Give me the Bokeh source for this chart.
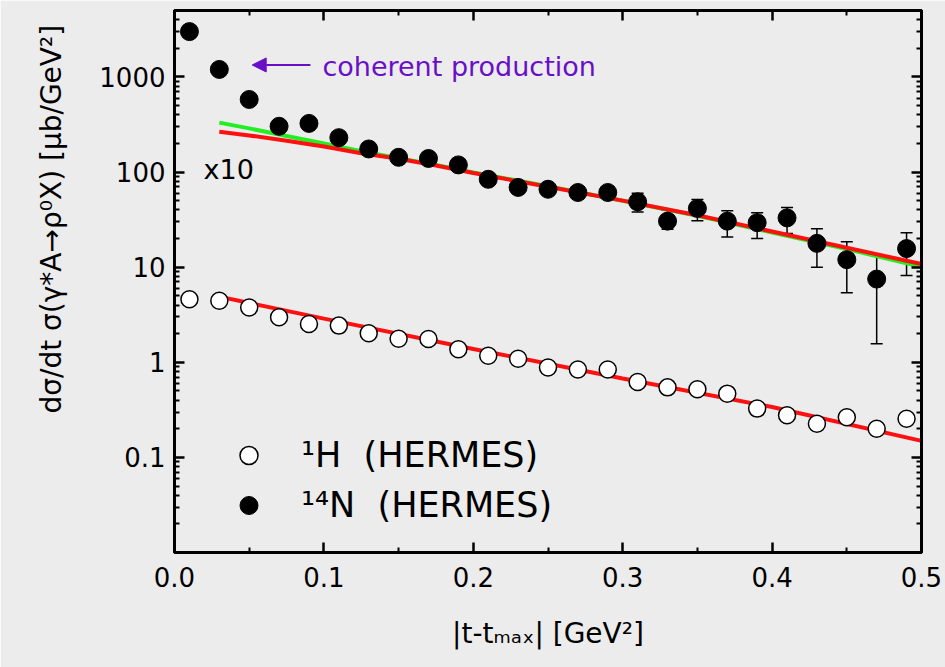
from bokeh.plotting import figure
from bokeh.models import (ColumnDataSource, Whisker, TeeHead, Label, Arrow, NormalHead,
                          FixedTicker, LinearAxis, LogAxis, CustomJSTickFormatter,
                          Legend, LegendItem, Range1d, PrintfTickFormatter, Title)
from bokeh.embed import file_html
from bokeh.resources import INLINE

# ---------------- data ----------------
t_values = [0.01, 0.03, 0.05, 0.07, 0.09, 0.11, 0.13, 0.15, 0.17, 0.19, 0.21, 0.23, 0.25,
            0.27, 0.29, 0.31, 0.33, 0.35, 0.37, 0.39, 0.41, 0.43, 0.45, 0.47, 0.49]
h_sigma = [4.6, 4.43, 3.77, 2.98, 2.53, 2.43, 2.02, 1.77, 1.76, 1.37, 1.17, 1.09, 0.88,
           0.84, 0.84, 0.62, 0.545, 0.52, 0.468, 0.326, 0.277, 0.226, 0.264, 0.20, 0.255]
n_sigma = [3000, 1200, 580, 303, 325, 230, 175, 143, 139, 119, 84, 69, 66,
           61, 61, 48.7, 30.5, 41.5, 30.5, 29.4, 33, 17.8, 12.0, 7.5, 15.7]

n_err_t = [0.31, 0.33, 0.35, 0.37, 0.39, 0.41, 0.43, 0.45, 0.47, 0.49]
n_err_low = [38, 25, 30.8, 20.8, 20.0, 22.6, 10.0, 5.4, 1.57, 8.2]
n_err_high = [60, 39.8, 51.6, 39.1, 37.3, 42.3, 25.3, 18.5, 13.3, 23.0]

curve_t = [0.03, 0.05, 0.075, 0.1, 0.125, 0.15, 0.175, 0.2, 0.25, 0.3, 0.35, 0.4, 0.45, 0.5]
n_red = [266, 243, 214, 186, 158, 138, 117.5, 97.7, 70, 50.1, 35.1, 23.7, 16.0, 10.8]
n_green = [331, 288, 240, 200, 166, 140, 119, 99, 71, 50, 34.7, 23.2, 15.5, 10.1]

h_curve_t = [0.03, 0.1, 0.2, 0.3, 0.4, 0.5]
h_red = [4.9, 2.88, 1.38, 0.676, 0.339, 0.149]

x_ticks = [0.0, 0.1, 0.2, 0.3, 0.4, 0.5]
x_minor = [0.05, 0.15, 0.25, 0.35, 0.45]
y_ticks = [0.1, 1, 10, 100, 1000]
y_tick_labels = ["0.1", "1", "10", "100", "1000"]
y_minor = [m * d for d in [0.01, 0.1, 1, 10, 100] for m in range(2, 10)] + [2000, 3000, 4000, 5000]

legend_labels = ["\u00b9H  (HERMES)", "\u00b9\u2074N  (HERMES)"]
x_title = "|t-t\u2098\u2090\u2093| [GeV\u00b2]"
y_title = "d\u03c3/dt \u03c3(\u03b3*A\u2192\u03c1\u2070X)  [\u03bcb/GeV\u00b2]"

FONT = "DejaVu Sans"
PURPLE = "#6a0fc8"
BG = "#ececec"

p = figure(width=945, height=667, x_range=Range1d(0, 0.5), y_range=Range1d(0.01, 5000),
           y_axis_type="log", output_backend="svg", toolbar_location=None,
           min_border_left=174, min_border_right=24, min_border_top=10, min_border_bottom=115)
p.background_fill_color = BG
p.border_fill_color = BG
p.grid.visible = False
p.outline_line_color = "black"
p.outline_line_width = 3

yfmt = CustomJSTickFormatter(args=dict(tvals=y_ticks, tlabels=y_tick_labels), code="""
const i = tvals.findIndex(t => Math.abs(Math.log10(t) - Math.log10(tick)) < 1e-6);
return i >= 0 ? tlabels[i] : '';
""")
yticker = FixedTicker(ticks=y_ticks, minor_ticks=y_minor)
xticker = FixedTicker(ticks=x_ticks, minor_ticks=x_minor)


def style(ax, labels=True):
    ax.axis_line_width = 3
    ax.major_tick_in = 10
    ax.major_tick_out = 0
    ax.minor_tick_in = 5
    ax.minor_tick_out = 0
    ax.major_tick_line_width = 2.5
    ax.minor_tick_line_width = 2
    if labels:
        ax.major_label_text_font = FONT
        ax.major_label_text_font_size = "26px"
        ax.major_label_text_color = "black"
    else:
        ax.formatter = CustomJSTickFormatter(code="return '';")
        ax.major_label_text_font_size = "1px"
        ax.major_label_standoff = 0


p.xaxis.ticker = xticker
p.xaxis.formatter = PrintfTickFormatter(format="%.1f")
p.yaxis.ticker = yticker
p.yaxis.formatter = yfmt
style(p.xaxis[0])
style(p.yaxis[0])
p.xaxis.major_label_standoff = 14
p.yaxis.major_label_standoff = 9

# x axis title
p.xaxis.axis_label = x_title
p.xaxis.axis_label_text_font = FONT
p.xaxis.axis_label_text_font_size = "28px"
p.xaxis.axis_label_text_font_style = "normal"
p.xaxis.axis_label_text_color = "black"
p.xaxis.axis_label_standoff = 27

top = LinearAxis(ticker=xticker)
style(top, labels=False)
p.add_layout(top, "above")
right = LogAxis(ticker=yticker)
style(right, labels=False)
p.add_layout(right, "right")

# y axis title (as a side title so it can be shifted along the axis)
ytitle = Title(text=y_title, align="left", offset=139, text_font=FONT, text_font_size="28px",
               text_font_style="normal", text_color="black")
if "standoff" in Title.properties():
    ytitle.standoff = 58
p.add_layout(ytitle, "left")

# curves
p.line(h_curve_t, h_red, line_color="#ff1010", line_width=4)
p.line(curve_t, n_green, line_color="#22ee22", line_width=4)
p.line(curve_t, n_red, line_color="#ff1010", line_width=4)

# error bars
err_src = ColumnDataSource(dict(t=n_err_t, lo=n_err_low, hi=n_err_high))
p.add_layout(Whisker(source=err_src, base="t", lower="lo", upper="hi", line_color="black",
                     line_width=1.5,
                     upper_head=TeeHead(size=12, line_width=1.5, line_color="black"),
                     lower_head=TeeHead(size=12, line_width=1.5, line_color="black")))

# markers
h_r = p.scatter(t_values, h_sigma, size=17, fill_color="white", line_color="black", line_width=1.5)
n_r = p.scatter(t_values, n_sigma, size=18, fill_color="black", line_color="black")

legend = Legend(items=[LegendItem(label=legend_labels[0], renderers=[h_r]),
                       LegendItem(label=legend_labels[1], renderers=[n_r])],
                location=(52, 24), background_fill_alpha=0, border_line_color=None,
                label_text_font=FONT, label_text_font_size="35px", label_text_color="black",
                glyph_width=45, glyph_height=46,
                label_height=46, spacing=4, padding=0, margin=0, label_standoff=30)
p.add_layout(legend)

# annotations
p.add_layout(Label(x=0.0194, y=106, text="x10", text_font=FONT, text_font_size="27px",
                   text_baseline="alphabetic", text_color="black"))
p.add_layout(Label(x=0.099, y=1276, text="coherent production", text_font=FONT,
                   text_font_size="27px", text_baseline="alphabetic", text_color=PURPLE))
p.add_layout(Arrow(end=NormalHead(size=14, fill_color=PURPLE, line_color=PURPLE),
                   x_start=0.091, y_start=1337, x_end=0.052, y_end=1337,
                   line_color=PURPLE, line_width=2))

open("out.html", "w").write(file_html(p, INLINE))
